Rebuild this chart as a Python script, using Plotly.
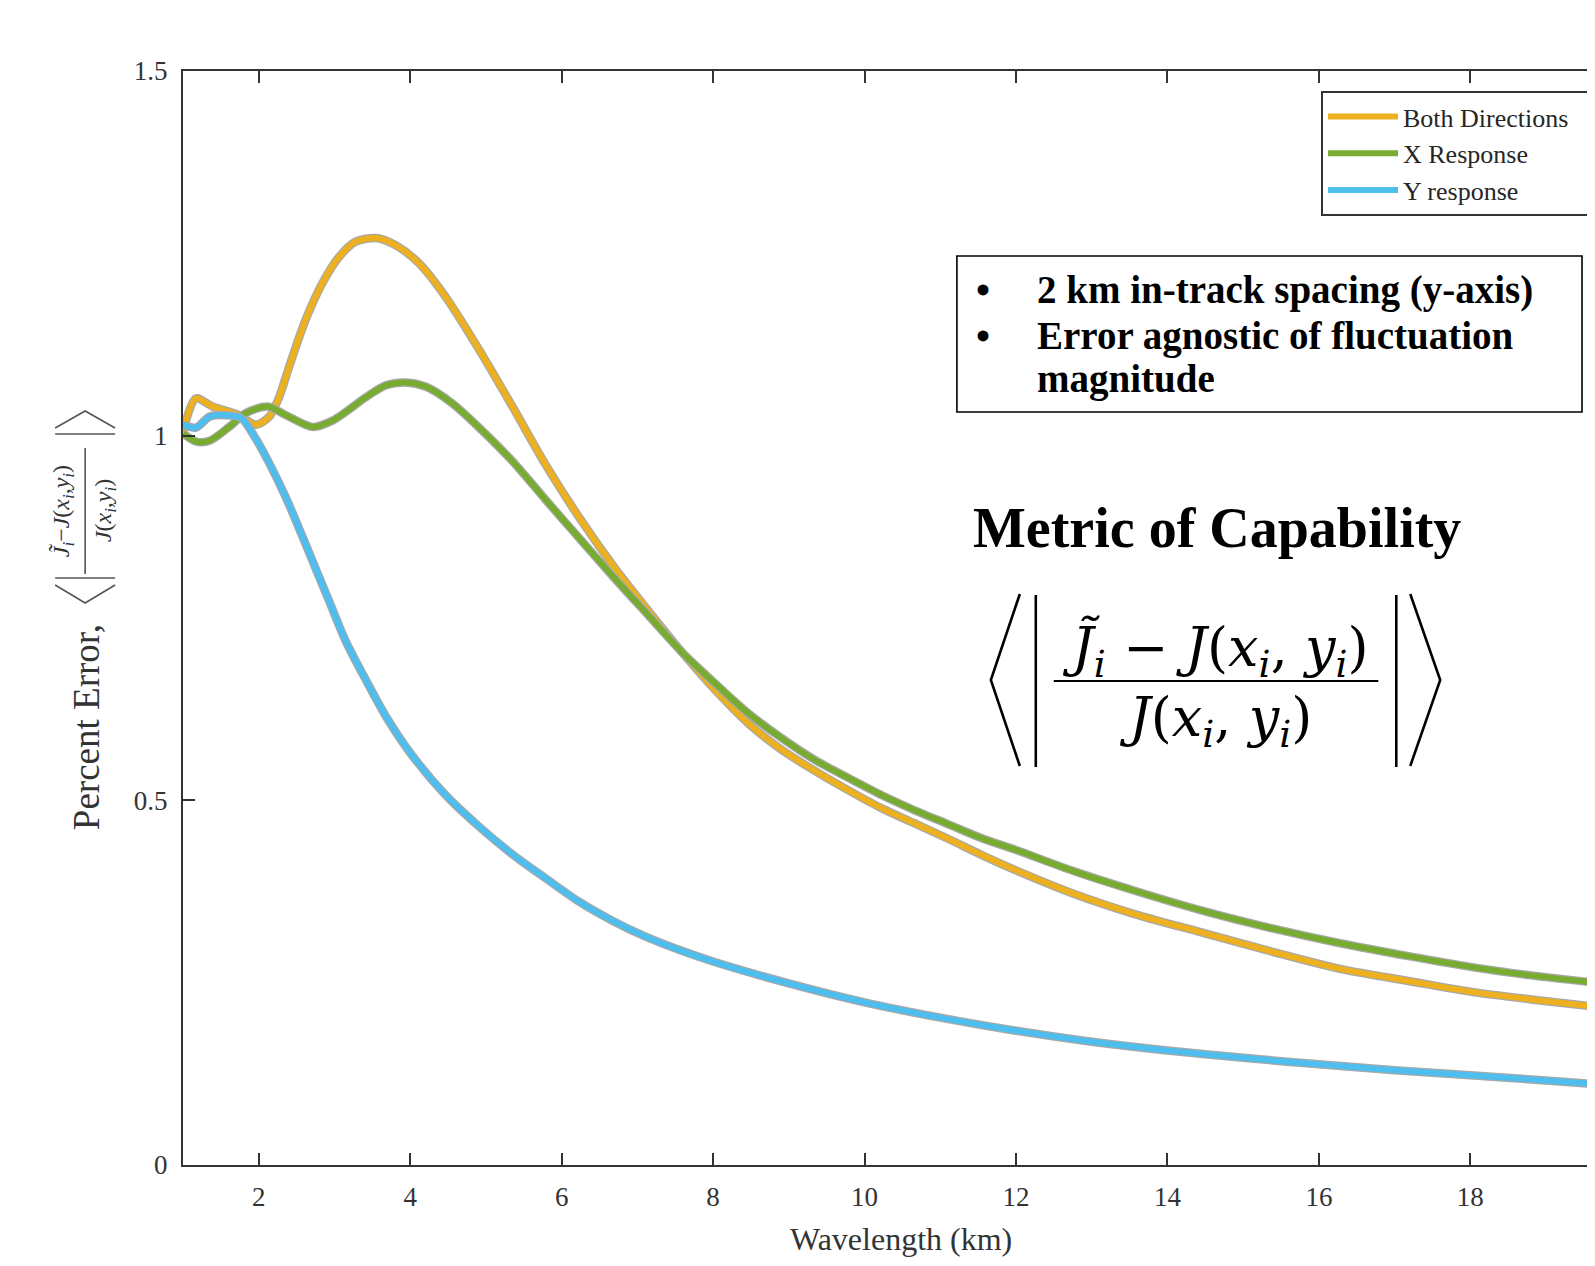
import plotly.graph_objects as go

# ---------------- data ----------------
both_x = [1.00, 1.17, 1.39, 1.74, 1.96, 2.14, 2.27, 2.40, 2.62, 2.84, 3.06, 3.28, 3.55, 3.81,
          4.12, 4.47, 4.91, 5.35, 5.79, 6.27, 6.72, 7.16, 7.59, 8.03, 8.47, 8.91, 9.35, 9.80,
          10.23, 10.67, 11.11, 11.55, 12.00, 12.76, 13.60, 14.52, 15.40, 16.28, 17.20, 18.04,
          18.80, 19.65]
both_y = [1.005, 1.051, 1.040, 1.028, 1.015, 1.026, 1.053, 1.094, 1.159, 1.209, 1.245, 1.266,
          1.271, 1.261, 1.236, 1.190, 1.118, 1.040, 0.960, 0.882, 0.816, 0.758, 0.703, 0.651,
          0.605, 0.569, 0.540, 0.513, 0.489, 0.468, 0.447, 0.425, 0.404, 0.372, 0.343, 0.317,
          0.292, 0.269, 0.252, 0.237, 0.227, 0.217]

xresp_x = [1.00, 1.17, 1.35, 1.61, 1.83, 2.12, 2.36, 2.71, 2.98, 3.42, 3.68, 3.94, 4.21, 4.56,
           4.91, 5.35, 5.79, 6.27, 6.72, 7.16, 7.59, 8.03, 8.47, 8.91, 9.35, 9.80, 10.23, 10.67,
           11.11, 11.55, 12.00, 12.76, 13.60, 14.52, 15.40, 16.28, 17.20, 18.04, 18.80, 19.65]
xresp_y = [1.003, 0.992, 0.993, 1.012, 1.031, 1.040, 1.028, 1.012, 1.021, 1.053, 1.069, 1.073,
           1.067, 1.044, 1.011, 0.965, 0.912, 0.855, 0.802, 0.752, 0.703, 0.660, 0.619, 0.585,
           0.555, 0.530, 0.507, 0.486, 0.467, 0.448, 0.432, 0.403, 0.375, 0.347, 0.324, 0.304,
           0.286, 0.271, 0.260, 0.250]

yresp_x = [1.00, 1.17, 1.35, 1.57, 1.77, 1.96, 2.14, 2.36, 2.60, 2.93, 3.15, 3.42, 3.68, 4.03,
           4.47, 4.91, 5.35, 5.79, 6.23, 6.67, 7.11, 7.55, 8.00, 9.00, 10.00, 11.00, 12.00,
           13.00, 14.00, 15.00, 16.00, 17.00, 18.00, 19.00, 19.65]
yresp_y = [1.015, 1.011, 1.026, 1.028, 1.024, 0.996, 0.962, 0.915, 0.856, 0.773, 0.718, 0.664,
           0.615, 0.561, 0.507, 0.464, 0.426, 0.393, 0.361, 0.335, 0.313, 0.295, 0.279, 0.249,
           0.223, 0.202, 0.184, 0.169, 0.157, 0.147, 0.138, 0.130, 0.123, 0.116, 0.111]

series_names = ["Both Directions\u00a0\u00a0\u00a0", "X Response", "Y response"]
series_colors = ["#EDB120", "#77AC30", "#4DBEEE"]

x_ticks = [2, 4, 6, 8, 10, 12, 14, 16, 18, 20]
y_ticks = [0, 0.5, 1, 1.5]
y_ticktext = ["0", "0.5", "1", "1.5"]

# ---------------- layout geometry ----------------
# the page body has an 8px margin, so the figure is made 8px smaller and
# positions below are given in page pixels
OFF = 8
W, H = 1587, 1250
L, R, T = 175, 0, 63
PH = 1094
B = H - T - PH
PW = W - L - R


def px(xp):
    return (xp - OFF - L) / PW


def py(yp):
    return (T + PH - (yp - OFF)) / PH


AX = "#333333"
SERIF = "Liberation Serif"

fig = go.Figure()
for name, xs, ys, col in zip(series_names, [both_x, xresp_x, yresp_x],
                             [both_y, xresp_y, yresp_y], series_colors):
    fig.add_trace(go.Scatter(x=xs, y=ys, mode="lines", showlegend=False, hoverinfo="skip",
                             line=dict(color="#a8a8a8", width=8.5, shape="spline", smoothing=0.8)))
    fig.add_trace(go.Scatter(x=xs, y=ys, mode="lines", name=name,
                             line=dict(color=col, width=6, shape="spline", smoothing=0.8)))

shapes = []
annotations = []

# ---- axis titles ----
annotations.append(dict(text="Wavelength (km)", xref="paper", yref="paper", x=px(902), y=py(1239),
                        showarrow=False, xanchor="center", yanchor="middle",
                        font=dict(family=SERIF, size=32, color=AX)))
annotations.append(dict(text="Percent Error,", xref="paper", yref="paper", x=px(86), y=py(727),
                        showarrow=False, textangle=-90, xanchor="center", yanchor="middle",
                        font=dict(family=SERIF, size=37, color=AX)))
annotations.append(dict(text="<i>J̃</i><sub><i>i</i></sub>−<i>J</i>(<i>x</i><sub><i>i</i></sub>,<i>y</i><sub><i>i</i></sub>)",
                        xref="paper", yref="paper", x=px(63), y=py(511), showarrow=False,
                        textangle=-90, xanchor="center", yanchor="middle",
                        font=dict(family=SERIF, size=24, color=AX)))
annotations.append(dict(text="<i>J</i>(<i>x</i><sub><i>i</i></sub>,<i>y</i><sub><i>i</i></sub>)",
                        xref="paper", yref="paper", x=px(105), y=py(511), showarrow=False,
                        textangle=-90, xanchor="center", yanchor="middle",
                        font=dict(family=SERIF, size=24, color=AX)))
ylab_line = dict(color="#555555", width=1.6)
shapes.append(dict(type="line", xref="paper", yref="paper", x0=px(85), x1=px(85),
                   y0=py(448), y1=py(574), line=ylab_line))
shapes.append(dict(type="line", xref="paper", yref="paper", x0=px(55), x1=px(115),
                   y0=py(578), y1=py(578), line=ylab_line))
shapes.append(dict(type="line", xref="paper", yref="paper", x0=px(55), x1=px(115),
                   y0=py(434), y1=py(434), line=ylab_line))
shapes.append(dict(type="path", xref="paper", yref="paper",
                   path=f"M {px(55)},{py(585)} L {px(85)},{py(603)} L {px(115)},{py(585)}",
                   line=ylab_line))
shapes.append(dict(type="path", xref="paper", yref="paper",
                   path=f"M {px(55)},{py(428)} L {px(85)},{py(411)} L {px(115)},{py(428)}",
                   line=ylab_line))

# ---- text box ----
shapes.append(dict(type="rect", xref="paper", yref="paper", x0=px(958), x1=px(1584),
                   y0=py(412), y1=py(256), line=dict(color="black", width=1.6),
                   fillcolor="white", layer="below"))
box_lines = [("•", "2 km in-track spacing (y-axis)", 290),
             ("•", "Error agnostic of fluctuation", 336),
             ("", "magnitude", 379)]
for bul, txt, yy in box_lines:
    if bul:
        annotations.append(dict(text=f"<b>{bul}</b>", xref="paper", yref="paper", x=px(984), y=py(yy),
                                showarrow=False, xanchor="center", yanchor="middle",
                                font=dict(family=SERIF, size=40, color="black")))
    annotations.append(dict(text=f"<b>{txt}</b>", xref="paper", yref="paper", x=px(1036), y=py(yy),
                            showarrow=False, xanchor="left", yanchor="middle",
                            font=dict(family=SERIF, size=39, color="black")))

# ---- Metric of Capability ----
annotations.append(dict(text="<b>Metric of Capability</b>", xref="paper", yref="paper",
                        x=px(1218), y=py(528), showarrow=False, xanchor="center", yanchor="middle",
                        font=dict(family=SERIF, size=56, color="black")))
EQF = "DejaVu Serif"
annotations.append(dict(text="<i>J̃</i><sub><i>i</i></sub> − <i>J</i>(<i>x</i><sub><i>i</i></sub>, <i>y</i><sub><i>i</i></sub>)",
                        xref="paper", yref="paper", x=px(1217), y=py(650), showarrow=False,
                        xanchor="center", yanchor="middle",
                        font=dict(family=EQF, size=54, color="black")))
annotations.append(dict(text="<i>J</i>(<i>x</i><sub><i>i</i></sub>, <i>y</i><sub><i>i</i></sub>)",
                        xref="paper", yref="paper", x=px(1217), y=py(721), showarrow=False,
                        xanchor="center", yanchor="middle",
                        font=dict(family=EQF, size=54, color="black")))
eq_line = dict(color="black", width=2.6)
shapes.append(dict(type="line", xref="paper", yref="paper", x0=px(1055), x1=px(1380),
                   y0=py(681), y1=py(681), line=dict(color="black", width=2)))
shapes.append(dict(type="line", xref="paper", yref="paper", x0=px(1037), x1=px(1037),
                   y0=py(595), y1=py(767), line=eq_line))
shapes.append(dict(type="line", xref="paper", yref="paper", x0=px(1398), x1=px(1398),
                   y0=py(595), y1=py(767), line=eq_line))
shapes.append(dict(type="path", xref="paper", yref="paper",
                   path=f"M {px(1021)},{py(594)} L {px(992)},{py(680)} L {px(1021)},{py(766)}",
                   line=eq_line))
shapes.append(dict(type="path", xref="paper", yref="paper",
                   path=f"M {px(1412)},{py(594)} L {px(1442)},{py(680)} L {px(1412)},{py(766)}",
                   line=eq_line))

fig.update_layout(
    width=W, height=H,
    margin=dict(l=L, r=R, t=T, b=B, pad=0),
    paper_bgcolor="white", plot_bgcolor="white",
    showlegend=True,
    legend=dict(x=px(1323), y=py(91), xanchor="left", yanchor="top",
                bgcolor="white", bordercolor=AX, borderwidth=2,
                font=dict(family=SERIF, size=26, color="#262626"),
                itemwidth=70, tracegroupgap=0),
    shapes=shapes,
    annotations=annotations,
    xaxis=dict(range=[1, 19.62], tickvals=x_ticks, ticks="inside", ticklen=12, tickwidth=1.5,
               tickcolor=AX, showline=True, linecolor=AX, linewidth=2, mirror="ticks",
               showgrid=False, zeroline=False, ticklabelstandoff=7,
               tickfont=dict(family=SERIF, size=27, color=AX)),
    yaxis=dict(range=[0, 1.5], tickvals=y_ticks, ticktext=y_ticktext, ticks="inside", ticklen=12,
               tickwidth=1.5, tickcolor=AX, showline=True, linecolor=AX, linewidth=2, mirror=False,
               showgrid=False, zeroline=False, ticklabelstandoff=8,
               tickfont=dict(family=SERIF, size=27, color=AX)),
)

fig.write_html("out.html")
